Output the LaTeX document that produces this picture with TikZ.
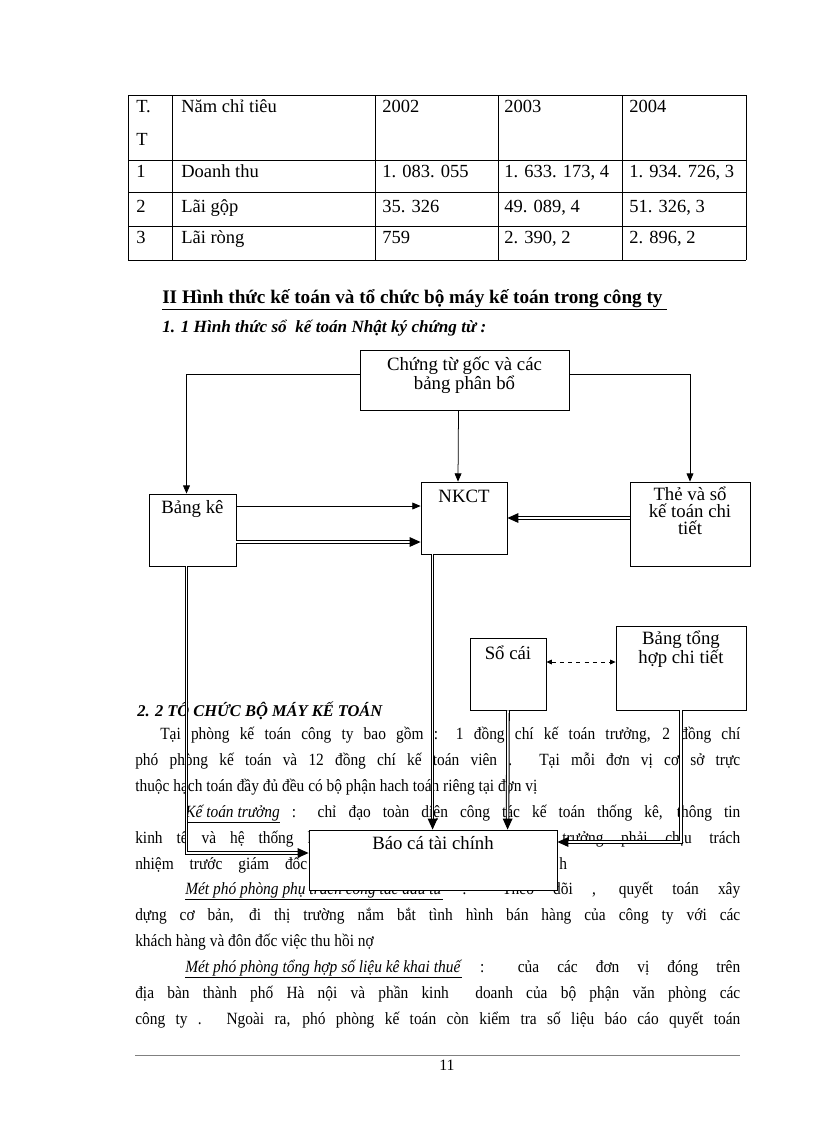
\documentclass[tikz,border=0pt]{standalone}
\usepackage{fontspec}
\setmainfont{Liberation Serif}
\newfontfamily\bodyfont[FakeStretch=0.9]{Liberation Serif}
\usepackage{tikz}
\usetikzlibrary{arrows.meta,positioning,calc}
\newlength\pxl
\setlength\pxl{0.7295pt}

\begin{document}
\begin{tikzpicture}[x=\pxl,y=-\pxl,
  box/.style={draw,line width=0.6pt,fill=white,inner sep=0pt},
  btxt/.style={font=\fontsize{13.7}{12.4}\selectfont,align=center,inner sep=0pt},
  cell/.style={anchor=base west,inner sep=0pt,font=\fontsize{13.5}{14}\selectfont},
  body/.style={anchor=base west,inner sep=0pt,font=\bodyfont\fontsize{12.5}{14}\selectfont},
  arr/.style={line width=0.55pt,-{Triangle[length=6pt,width=5pt]}},
  dbl/.style={double,double distance=1.1pt,line width=0.75pt,-{Triangle[length=8pt,width=7pt]}}]
\fill[white] (0,0) rectangle (816,1123);
\useasboundingbox (0,0) rectangle (816,1123);
% bang chi tieu
\foreach \x in {128,172,375,498,622,746} \draw[line width=0.6pt] (\x,95)--(\x,260);
\foreach \y in {95,160,192,226,260} \draw[line width=0.6pt] (128,\y)--(746,\y);
\node[cell] (t0) at (136,112) {T.}; \node[cell] (t0b) at (136,145) {T};
\node[cell] (n0) at (181,112) {Năm chỉ tiêu};
\node[cell] (a0) at (382,112) {2002}; \node[cell] (b0) at (504,112) {2003}; \node[cell] (c0) at (629,112) {2004};
\node[cell] (t1) at (136,177) {1}; \node[cell] (n1) at (181,177) {Doanh thu};
\node[cell] (a1) at (382,177) {1. 083. 055}; \node[cell] (b1) at (504,177) {1. 633. 173, 4}; \node[cell] (c1) at (629,177) {1. 934. 726, 3};
\node[cell] (t2) at (136,212) {2}; \node[cell] (n2) at (181,212) {Lãi gộp};
\node[cell] (a2) at (382,212) {35. 326}; \node[cell] (b2) at (504,212) {49. 089, 4}; \node[cell] (c2) at (629,212) {51. 326, 3};
\node[cell] (t3) at (136,243) {3}; \node[cell] (n3) at (181,243) {Lãi ròng};
\node[cell] (a3) at (382,243) {759}; \node[cell] (b3) at (504,243) {2. 390, 2}; \node[cell] (c3) at (629,243) {2. 896, 2};
% tieu de
\node[anchor=base west,inner sep=0pt,font=\fontsize{14}{15}\selectfont\bfseries] (h2) at (162,303)
  {\underline{II Hình thức kế toán và tổ chức bộ máy kế toán trong công ty\ }};
\node[anchor=base west,inner sep=0pt,font=\fontsize{12.5}{14}\selectfont\bfseries\itshape] (h11) at (162,332)
  {1. 1 Hình thức sổ \ kế toán Nhật ký chứng từ :};
\node[anchor=base west,inner sep=0pt,font=\fontsize{12}{13}\selectfont\bfseries\itshape] (h22) at (137,716)
  {2. 2 TỔ CHỨC BỘ MÁY KẾ TOÁN};
% van ban
\node[body] (l1) at (160,739) {\makebox[580\pxl][s]{Tại phòng kế toán công ty bao gồm : 1 đồng chí kế toán trưởng, 2 đồng chí}};
\node[body] (l2) at (135,765) {\makebox[605\pxl][s]{phó phòng kế toán và 12 đồng chí kế toán viên . Tại mỗi đơn vị cơ sở trực}};
\node[body] (l3) at (135,791) {thuộc hạch toán đầy đủ đều có bộ phận hach toán riêng tại đơn vị};
\node[body] (l4) at (185,817) {\makebox[555\pxl][s]{\underline{\textit{Kế toán trưởng}} : chỉ đạo toàn diện công tác kế toán thống kê, thông tin}};
\node[body] (l5a) at (135,843) {\makebox[180\pxl][s]{kinh tế và hệ thống k}};
\node[body] (l5b) at (562,843) {\makebox[178\pxl][s]{trưởng phải chịu trách}};
\node[body] (l6a) at (135,869) {\makebox[172\pxl][s]{nhiệm trước giám đốc}};
\node[body] (l6b) at (559,869) {h};
\node[body] (l7) at (185,894) {\makebox[555\pxl][s]{\underline{\textit{Mét phó phòng phụ trách công tác đầu tư}} : Theo dõi , quyết toán xây}};
\node[body] (l8) at (135,920) {\makebox[605\pxl][s]{dựng cơ bản, đi thị trường nắm bắt tình hình bán hàng của công ty với các}};
\node[body] (l9) at (135,946) {khách hàng và đôn đốc việc thu hồi nợ};
\node[body] (l10) at (185,972) {\makebox[555\pxl][s]{\underline{\textit{Mét phó phòng tổng hợp số liệu kê khai thuế}} : của các đơn vị đóng trên}};
\node[body] (l11) at (135,998) {\makebox[605\pxl][s]{địa bàn thành phố Hà nội và phần kinh \ doanh của bộ phận văn phòng các}};
\node[body] (l12) at (135,1024) {\makebox[605\pxl][s]{công ty . Ngoài ra, phó phòng kế toán còn kiểm tra số liệu báo cáo quyết toán}};
% so do
\node[box,minimum width=209\pxl,minimum height=60\pxl] (goc) at (464.5,380) {};
\node[btxt,below=5pt of goc.north] (gocT) {Chứng từ gốc và các\\bảng phân bổ};
\node[box,minimum width=87\pxl,minimum height=72\pxl] (bke) at (192.5,530) {};
\node[btxt,below=4.5pt of bke.north] (bkeT) {Bảng kê};
\node[box,minimum width=86\pxl,minimum height=72\pxl] (nkct) at (464,518) {};
\node[btxt,below=6pt of nkct.north] (nkctT) {NKCT};
\node[box,minimum width=120\pxl,minimum height=84\pxl] (the) at (690,524) {};
\node[btxt,below=4pt of the.north] (theT) {Thẻ và sổ\\kế toán chi\\tiết};
\node[box,minimum width=76\pxl,minimum height=72\pxl] (socai) at (508,674) {};
\node[btxt,below=6pt of socai.north] (socaiT) {Sổ cái};
\node[box,minimum width=130\pxl,minimum height=84\pxl] (bth) at (681,668) {};
\node[btxt,below=4pt of bth.north] (bthT) {Bảng tổng\\hợp chi tiết};
\node[box,minimum width=248\pxl,minimum height=60\pxl] (bao) at (433,860) {};
\node[btxt,below=5pt of bao.north] (baoT) {Báo cá tài chính};
% mui ten
\draw[arr] ($(goc.west)+(0,-6)$) -| ($(bke.north)+(-6,0)$);
\draw[arr] ($(goc.east)+(0,-6)$) -| (the.north);
\draw[arr] ($(goc.south)+(-6,0)$) -- ($(nkct.north)+(-6,0)$);
\draw[arr] ($(bke.east)+(0,-24)$) -- ($(nkct.west)+(0,-12)$);
\draw[dbl] ($(bke.east)+(0,12)$) -- ($(nkct.west)+(0,24)$);
\draw[dbl] ($(the.west)+(0,-6)$) -- (nkct.east);
\draw[dbl] ($(bke.south)+(-6,0)$) |- ($(bao.west)+(0,-7)$);
\draw[dbl] ($(nkct.south west)+(12,0)$) -- ($(bao.north west)+(124,0)$);
\draw[dbl] (socai.south) -- ($(bao.north west)+(199,0)$);
\draw[dbl] (bth.south) |- ($(bao.east)+(0,-18)$);
\draw[dashed,line width=0.55pt,{Triangle[length=4pt,width=3.5pt]}-{Triangle[length=4pt,width=3.5pt]}]
  ($(socai.east)+(0,-12)$) -- ($(bth.west)+(0,-6)$);
% chan trang
\draw[gray,line width=0.6pt] (135,1055) -- (740,1055);
\node[anchor=base,inner sep=0pt,font=\fontsize{11.5}{12}\selectfont] (trang) at (447,1070) {11};
\end{tikzpicture}
\end{document}
